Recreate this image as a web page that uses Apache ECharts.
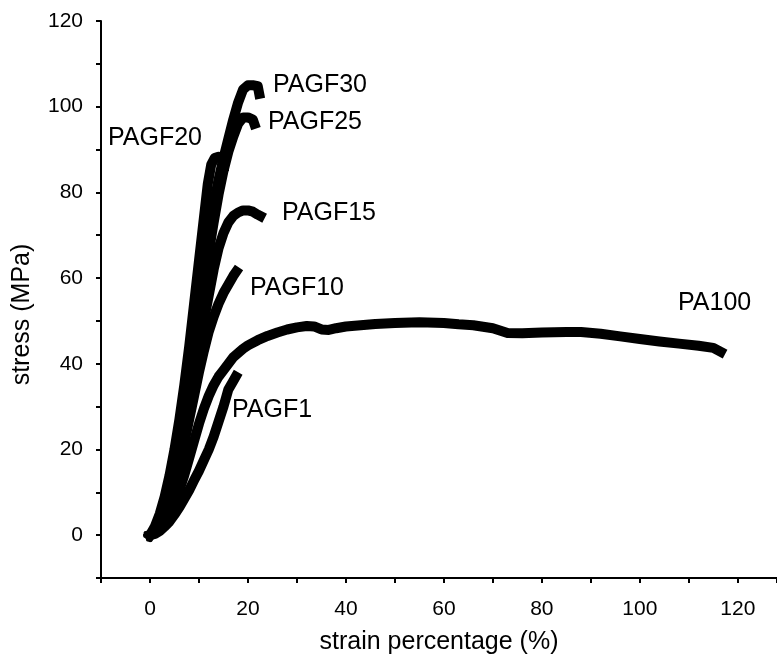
<!DOCTYPE html>
<html><head><meta charset="utf-8">
<script src="https://cdn.jsdelivr.net/npm/echarts@6/dist/echarts.min.js"></script>
<style>html,body{margin:0;padding:0;background:#fff}#c{width:777px;height:660px}</style>
</head><body><div id="c"></div>
<script>
// strain (%) , stress (MPa)
const pa100 = [[0,0],[1,0.5],[2,1.5],[3,3],[4,5],[5,7.5],[6,10.5],[7,14],[8,18],[9,22],[10,26],[11,29.5],[12,32.5],[13,35],[14,37],[15,38.5],[16,40],[17,41.5],[18,42.5],[19,43.5],[20,44.3],[22,45.5],[24,46.5],[26,47.3],[28,48],[30,48.5],[32,48.8],[33.5,48.7],[35,48],[36.5,47.9],[38,48.3],[40,48.7],[43,49],[46,49.3],[50,49.5],[55,49.7],[60,49.5],[63,49.2],[66,49],[70,48.3],[73,47.2],[76,47.1],[80,47.3],[85,47.4],[88,47.4],[92,47],[96,46.4],[100,45.8],[104,45.2],[108,44.7],[112,44.2],[115,43.7],[116.5,42.8]];
const pagf1 = [[0,0],[1,0.3],[2,1],[3,2],[4,3.2],[5,4.8],[6,6.5],[7,8.5],[8,10.5],[9,12.8],[10,15],[11,17.5],[12,20],[13,23],[14,26.5],[15,30],[15.5,32],[16,34],[17,36],[17.5,37]];
const pagf10 = [[0,0],[1,0.8],[2,2.5],[3,5],[4,8],[5,12],[6,16.5],[7,21.5],[8,27],[9,32.5],[10,38],[11,43],[12,47.5],[13,51],[14,54],[15,56.5],[16,58.5],[17,60.5],[17.6,61.5]];
const pagf15 = [[0,0],[1,1],[2,3],[3,6],[4,9.5],[5,14],[6,19],[7,25],[8,31],[9,37.5],[10,44],[11,50],[12,56],[13,62],[14,67],[15,70.5],[16,73],[17,74.5],[18,75.3],[19,75.8],[20,75.8],[21,75.5],[22,74.8],[22.5,74.5]];
const pagf20 = [[0,0],[1,2],[2,5],[3,9],[4,14],[5,20],[6,27],[7,35],[8,44],[9,54],[10,64],[11,74],[11.8,82],[12.5,86.5],[13.2,88],[14,88.3],[14.8,88],[15,86]];
const pagf25 = [[0,0],[1,1.3],[2,3.5],[3,6.5],[4,10.5],[5,15],[6,21],[7,27.5],[8,34.5],[9,42],[10,50],[11,58],[12,66],[13,73],[14,79.5],[15,85],[16,89.5],[17,93],[18,96],[19,97.5],[20,97.5],[21,97],[21.3,96]];
const pagf30 = [[0,0],[1,1.5],[2,4],[3,7.5],[4,12],[5,17],[6,23],[7,30],[8,38],[9,46],[10,54],[11,62],[12,70],[13,77],[14,83],[15,88],[16,92.5],[17,97],[18,101],[19,104],[20,105],[21,105],[22,104.8],[22.3,103]];
const seriesNames = ['PA100','PAGF1','PAGF10','PAGF15','PAGF20','PAGF25','PAGF30'];
const seriesData = [pa100, pagf1, pagf10, pagf15, pagf20, pagf25, pagf30];
const xTickLabels = ['0','20','40','60','80','100','120'];
const yTickLabels = ['0','20','40','60','80','100','120'];
const xTitle = 'strain percentage (%)';
const yTitle = 'stress (MPa)';

const FONT = '"Liberation Sans", Arial, sans-serif';
const chart = echarts.init(document.getElementById('c'), null, {renderer:'canvas'});
const lblPos = {
  PAGF30:[273,86], PAGF25:[268,123], PAGF20:[108,139], PAGF15:[282,214],
  PAGF10:[250,289], PAGF1:[232,411], PA100:[678,304]
};
const axisCommon = {
  axisTick:{show:true,inside:false,length:5,lineStyle:{color:'#000',width:2}},
  splitLine:{show:false}
};
chart.setOption({
  animation:false,
  backgroundColor:'#fff',
  grid:{left:101,top:21,right:0,bottom:82,containLabel:false,outerBoundsMode:'none'},
  xAxis:Object.assign({type:'value',min:-10,max:128,interval:10,
    axisLine:{show:true,onZero:false,lineStyle:{color:'#000',width:2}},
    name:xTitle,nameLocation:'middle',nameGap:52,
    nameTextStyle:{fontFamily:FONT,fontSize:25,color:'#000'},
    axisLabel:{margin:21,fontFamily:FONT,fontSize:21,color:'#000',
      formatter:v=>{const s=String(v);return xTickLabels.includes(s)?s:'';}}
  },axisCommon),
  yAxis:Object.assign({type:'value',min:-10,max:120,interval:10,
    axisLine:{show:true,onZero:false,lineStyle:{color:'#000',width:2}},
    name:yTitle,nameLocation:'middle',nameGap:66,nameRotate:90,
    nameTextStyle:{fontFamily:FONT,fontSize:25,color:'#000',padding:[0,30,0,0]},
    axisLabel:{margin:18,fontFamily:FONT,fontSize:21,color:'#000',
      formatter:v=>{const s=String(v);return yTickLabels.includes(s)?s:'';}}
  },axisCommon),
  series:seriesNames.map((n,i)=>({
    name:n,type:'line',data:seriesData[i],showSymbol:false,symbol:'none',
    lineStyle:{color:'#000',width:10,cap:'square',join:'round'},
    silent:true
  })),
  graphic:seriesNames.map(n=>({
    type:'text',left:lblPos[n][0],top:lblPos[n][1]-13,
    style:{text:n,font:'25px '+FONT,fill:'#000'}
  }))
});
</script></body></html>
